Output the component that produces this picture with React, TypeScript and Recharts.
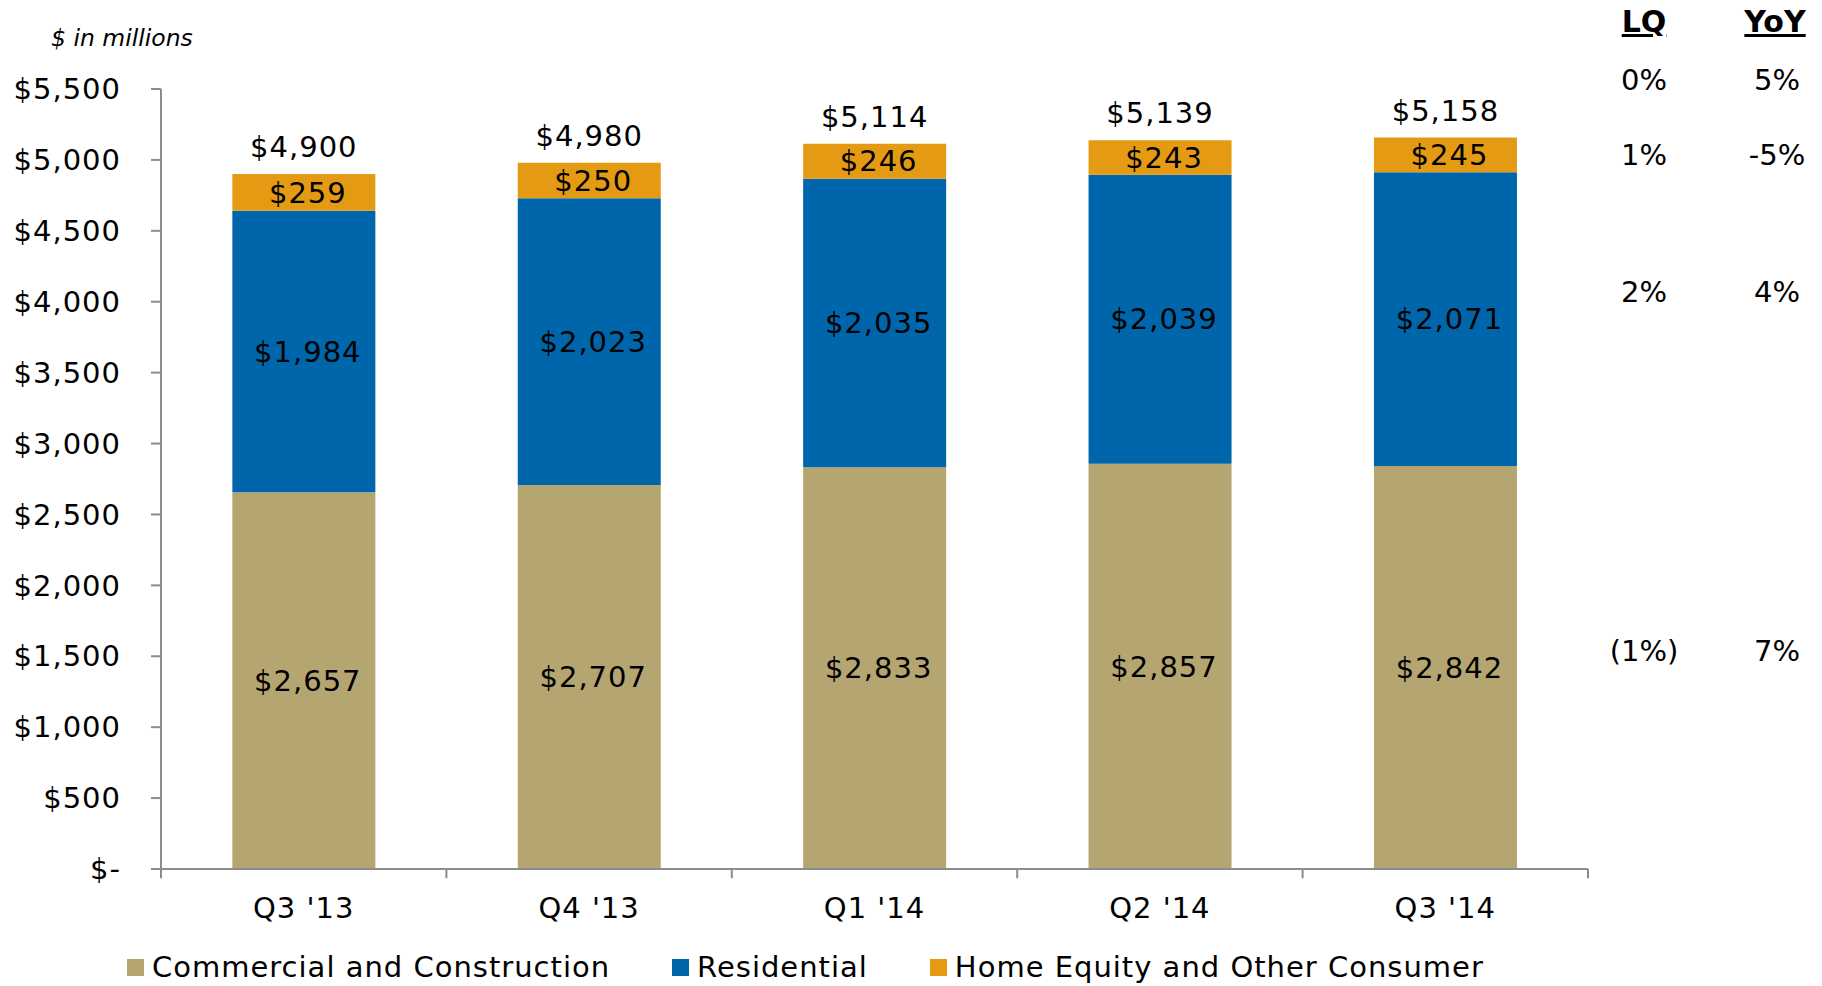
import React from 'react';
import { BarChart, Bar, XAxis, YAxis, LabelList, ReferenceLine } from 'recharts';

const categories = ["Q3 '13", "Q4 '13", "Q1 '14", "Q2 '14", "Q3 '14"];
const commercial = [2657, 2707, 2833, 2857, 2842];
const residential = [1984, 2023, 2035, 2039, 2071];
const homeEquity = [259, 250, 246, 243, 245];
const totals = [4900, 4980, 5114, 5139, 5158];
const yTicks = [0, 500, 1000, 1500, 2000, 2500, 3000, 3500, 4000, 4500, 5000, 5500];
const boundaryTicks = [0, 1, 2, 3, 4, 5];
const seriesNames = ['Commercial and Construction', 'Residential', 'Home Equity and Other Consumer'];
const seriesColors = ['#B5A571', '#0066AB', '#E59A13'];
const unitLabel = '$ in millions';
const changeHeaders = ['LQ', 'YoY'];
const lqValues = ['0%', '1%', '2%', '(1%)'];
const yoyValues = ['5%', '-5%', '4%', '7%'];
const changeRowBaselines = [90, 165, 302, 661];

const data = categories.map((name, i) => ({
  name,
  idx: i,
  commercial: commercial[i],
  residential: residential[i],
  homeEquity: homeEquity[i],
  total: totals[i],
}));

const FONT = '"DejaVu Sans", sans-serif';
const FS = 29;
const AXIS = '#8C8C8C';

const fmt = (v: number) => (v === 0 ? '$-' : '$' + v.toLocaleString('en-US'));

const YTick = (props: any) => {
  const { x, y, payload } = props;
  return (
    <text x={x - 30} y={y} dy="0.35em" textAnchor="end" fontFamily={FONT} fontSize={FS} fill="#000" letterSpacing={1}>
      {fmt(payload.value)}
    </text>
  );
};

const XTick = (props: any) => {
  const { x, y, payload } = props;
  return (
    <text x={x} y={y + 49} textAnchor="middle" fontFamily={FONT} fontSize={FS} fill="#000" letterSpacing={1}>
      {payload.value}
    </text>
  );
};

const SegLabel = (props: any) => {
  const { x, y, width, height, value } = props;
  return (
    <text x={x + width / 2 + 4} y={y + height / 2} dy="0.35em" textAnchor="middle" fontFamily={FONT} fontSize={FS} fill="#000" letterSpacing={1}>
      {fmt(Number(value))}
    </text>
  );
};

const TotalLabel = (props: any) => {
  const { x, y, width, value } = props;
  return (
    <text x={x + width / 2} y={y - 17} textAnchor="middle" fontFamily={FONT} fontSize={FS} fill="#000" letterSpacing={1}>
      {fmt(Number(value))}
    </text>
  );
};

export default function App() {
  return (
    <div style={{ position: 'absolute', left: 0, top: 0, width: 1822, height: 986, background: '#fff' }}>
      <BarChart
        width={1822}
        height={986}
        data={data}
        margin={{ top: 89, right: 234, bottom: 57, left: 0 }}
        barCategoryGap="25%"
      >
        <XAxis
          dataKey="name"
          height={60}
          tickLine={false}
          tickSize={0}
          tickMargin={0}
          axisLine={{ stroke: AXIS, strokeWidth: 2 }}
          tick={<XTick />}
          interval={0}
        />
        <XAxis xAxisId="b" type="number" dataKey="idx" domain={[0, 5]} hide allowDataOverflow />
        <YAxis
          width={161}
          domain={[0, 5500]}
          ticks={yTicks}
          interval={0}
          tickSize={10}
          tickMargin={0}
          tickLine={{ stroke: AXIS, strokeWidth: 2 }}
          axisLine={{ stroke: AXIS, strokeWidth: 2 }}
          tick={<YTick />}
        />
        {boundaryTicks.map((t) => (
          <ReferenceLine
            key={t}
            xAxisId="b"
            segment={[{ x: t, y: 0 }, { x: t, y: -65 }]}
            ifOverflow="visible"
            stroke={AXIS}
            strokeWidth={2}
          />
        ))}
        <Bar dataKey="commercial" stackId="a" fill={seriesColors[0]} name={seriesNames[0]} isAnimationActive={false}>
          <LabelList dataKey="commercial" content={<SegLabel />} />
        </Bar>
        <Bar dataKey="residential" stackId="a" fill={seriesColors[1]} name={seriesNames[1]} isAnimationActive={false}>
          <LabelList dataKey="residential" content={<SegLabel />} />
        </Bar>
        <Bar dataKey="homeEquity" stackId="a" fill={seriesColors[2]} name={seriesNames[2]} isAnimationActive={false}>
          <LabelList dataKey="homeEquity" content={<SegLabel />} />
          <LabelList dataKey="total" content={<TotalLabel />} />
        </Bar>
      </BarChart>

      <svg width={1822} height={986} style={{ position: 'absolute', left: 0, top: 0, pointerEvents: 'none' }}>
        <text x={51} y={46} fontFamily={FONT} fontSize={23.5} fontStyle="italic" fill="#000">
          {unitLabel}
        </text>
        {changeHeaders.map((h, i) => (
          <text
            key={h}
            x={i === 0 ? 1644 : 1775}
            y={32}
            textAnchor="middle"
            fontFamily={FONT}
            fontSize={30}
            fontWeight="bold"
            textDecoration="underline"
            fill="#000"
          >
            {h}
          </text>
        ))}
        {lqValues.map((v, i) => (
          <text key={'lq' + i} x={1644} y={changeRowBaselines[i]} textAnchor="middle" fontFamily={FONT} fontSize={FS} fill="#000">
            {v}
          </text>
        ))}
        {yoyValues.map((v, i) => (
          <text key={'yoy' + i} x={1777} y={changeRowBaselines[i]} textAnchor="middle" fontFamily={FONT} fontSize={FS} fill="#000">
            {v}
          </text>
        ))}
      </svg>

      <div
        style={{
          position: 'absolute',
          left: 127,
          top: 950,
          display: 'flex',
          alignItems: 'center',
          fontFamily: FONT,
          fontSize: FS,
          letterSpacing: 1,
          color: '#000',
          whiteSpace: 'nowrap',
        }}
      >
        {seriesNames.map((n, i) => (
          <div key={n} style={{ display: 'flex', alignItems: 'center', marginRight: i < 2 ? 62 : 0 }}>
            <div style={{ width: 17, height: 17, background: seriesColors[i], marginRight: 8 }} />
            <span>{n}</span>
          </div>
        ))}
      </div>
    </div>
  );
}
